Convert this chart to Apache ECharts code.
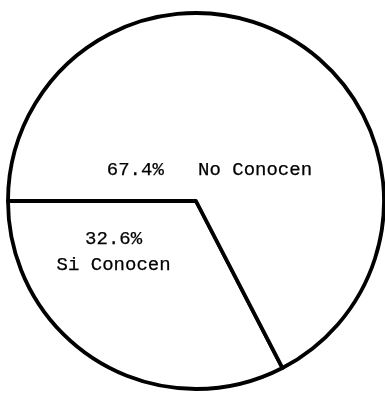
<!DOCTYPE html>
<html><head><meta charset="utf-8">
<script src="https://cdn.jsdelivr.net/npm/echarts@6/dist/echarts.min.js"></script>
<style>html,body{margin:0;padding:0;background:#fff}#c{width:385px;height:396px}</style>
</head><body><div id="c"></div>
<script>
const categories = ['Si Conocen', 'No Conocen'];
const values = [32.6, 67.4];

const chart = echarts.init(document.getElementById('c'), null, {renderer: 'canvas'});
chart.setOption({
  animation: false,
  backgroundColor: '#ffffff',
  series: [{
    type: 'pie',
    center: [196, 201],
    radius: 188,
    startAngle: 180,
    clockwise: false,
    silent: true,
    emphasis: {disabled: true},
    itemStyle: {color: '#ffffff', borderColor: '#000000', borderWidth: 3.8},
    labelLine: {show: false},
    label: {
      show: true,
      position: 'inside',
      color: '#000000',
      fontFamily: 'Liberation Mono',
      fontSize: 19,
      lineHeight: 26,
      align: 'center',
      textBorderColor: '#000000',
      textBorderWidth: 0.25,
      formatter: function (p) {
        const v = p.value.toFixed(1) + '%';
        return p.dataIndex === 0 ? v + '\n' + p.name : v + '   ' + p.name;
      }
    },
    labelLayout: function (p) {
      return p.dataIndex === 0 ? {dx: -32, dy: -32} : {dx: -37, dy: 52};
    },
    data: categories.map((c, i) => ({name: c, value: values[i]}))
  }]
});
</script>
</body></html>
